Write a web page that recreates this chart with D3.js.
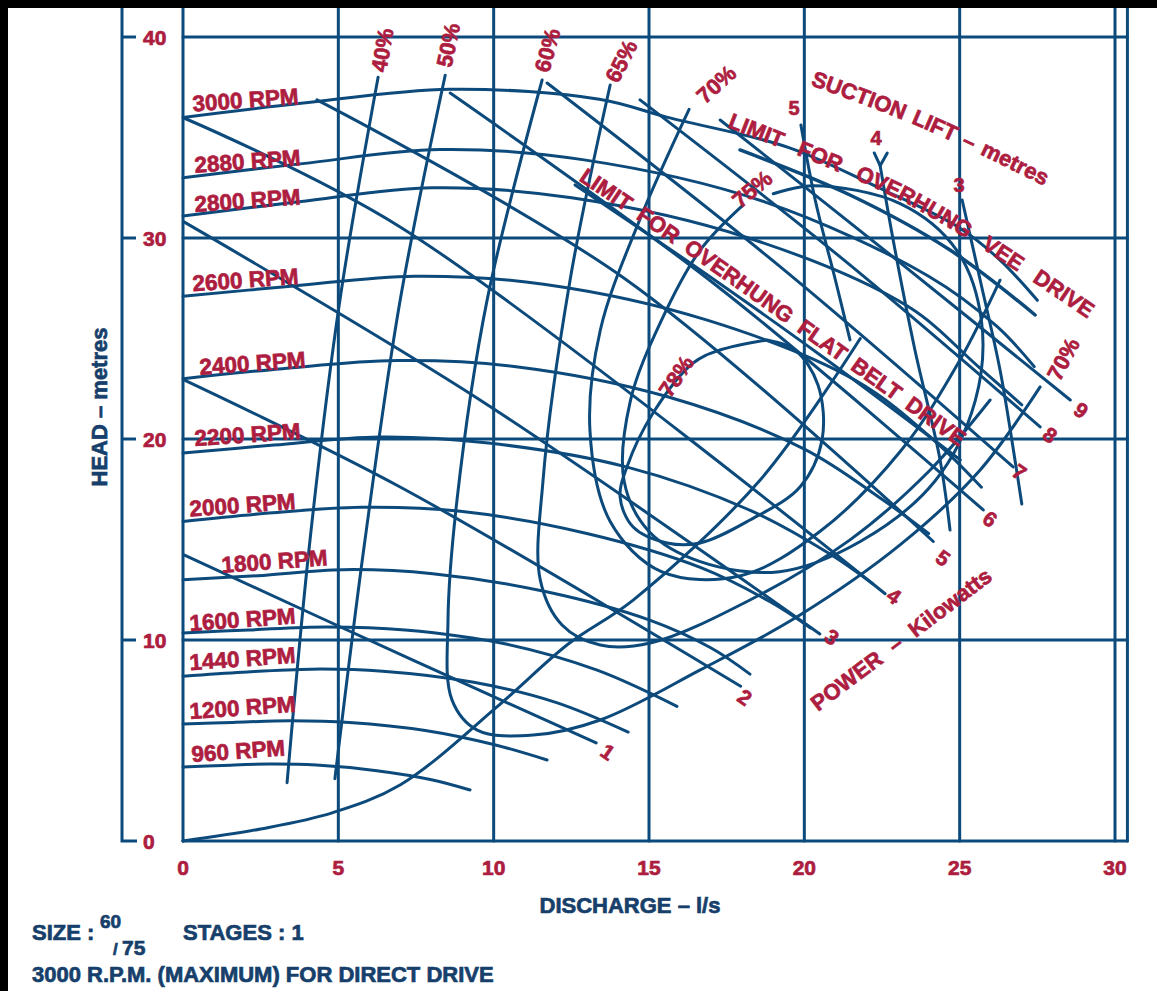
<!DOCTYPE html>
<html><head><meta charset="utf-8">
<script src="https://cdn.jsdelivr.net/npm/d3@7"></script>
<style>
body{margin:0;background:#fff;}
svg{display:block;}
text{font-family:"Liberation Sans",Arial,Helvetica,sans-serif;font-weight:bold;}
</style></head>
<body><svg id="c" width="1157" height="991"></svg>
<script>
// ---------- DATA (Q = discharge l/s, H = head m) ----------
const xTicks = [0, 5, 10, 15, 20, 25, 30];
const yTicks = [0, 10, 20, 30, 40];
const gridX = [5, 10, 15, 20, 25, 30];
const gridY = [10, 20, 30, 40];

const speedNames = ["3000 RPM","2880 RPM","2800 RPM","2600 RPM","2400 RPM","2200 RPM","2000 RPM","1800 RPM","1600 RPM","1440 RPM","1200 RPM","960 RPM"];
const rpm3000 = [[0,36.0],[3.8,36.7],[8.6,37.4],[13.4,36.9],[15.6,36.0],[19.5,34.5],[22.4,32.5],[25.0,30.5],[26.3,28.9],[27.5,26.9]];
const rpm2880 = [[0,33.0],[3.84,33.7],[8.26,34.4],[12.86,33.9],[18.72,31.8],[24.0,28.1],[26.2,25.6],[27.4,23.6]];
const rpm2800 = [[0,31.1],[3.73,31.8],[8.03,32.5],[12.51,32.0],[18.2,30.0],[23.33,26.6],[25.6,23.6],[27.0,21.7]];
const rpm2600 = [[0,27.1],[3.47,27.6],[7.45,28.1],[11.61,27.7],[16.9,25.9],[21.67,22.9],[24.2,19.9],[25.7,17.6]];
const rpm2400 = [[0,23.0],[3.2,23.5],[6.88,23.9],[10.72,23.6],[15.6,22.1],[20.0,19.5],[22.5,17.0],[24.0,15.3]];
const rpm2200 = [[0,19.3],[2.93,19.7],[6.31,20.1],[9.83,19.8],[14.3,18.6],[18.33,16.4],[20.8,14.3],[22.2,12.8]];
const rpm2000 = [[0,15.9],[2.67,16.3],[5.73,16.6],[8.93,16.4],[13.0,15.3],[16.67,13.6],[18.9,11.9],[20.2,10.6]];
const rpm1800 = [[0,13.0],[2.4,13.2],[5.16,13.5],[8.04,13.3],[11.7,12.4],[15.0,11.0],[17.0,9.6],[18.25,8.3]];
const rpm1600 = [[0,10.35],[2.13,10.5],[4.59,10.65],[7.15,10.5],[10.4,9.8],[13.33,8.5],[15.9,6.7]];
const rpm1440 = [[0,8.2],[1.92,8.4],[4.13,8.55],[6.43,8.45],[9.36,7.9],[12.0,6.9],[14.33,5.42]];
const rpm1200 = [[0,5.82],[1.6,5.9],[3.44,5.98],[5.36,5.9],[7.8,5.5],[10.0,4.8],[11.72,4.03]];
const rpm960  = [[0,3.68],[1.28,3.76],[2.75,3.83],[4.29,3.78],[6.24,3.5],[8.0,3.05],[9.24,2.54]];
const speedCurves = [rpm3000,rpm2880,rpm2800,rpm2600,rpm2400,rpm2200,rpm2000,rpm1800,rpm1600,rpm1440,rpm1200,rpm960];

// efficiency curves
const eff40 = [[6.28,38.0],[5.05,26.9],[4.09,15.0],[3.35,2.9]];
const eff50 = [[8.44,38.1],[6.99,26.9],[5.86,15.0],[4.89,3.1]];
const eff60 = [[11.56,37.86],[9.79,26.92],[8.82,16.97],[8.53,11.0],[8.66,7.01],[9.47,5.52],[11.27,5.27],[13.43,6.02],[16.65,8.51],[19.86,11.24],[23.08,14.73],[25.66,18.46],[27.59,22.59]];
const eff65 = [[13.75,37.61],[12.46,27.91],[11.59,17.96],[11.5,12.99],[12.2,10.75],[13.43,9.75],[15.04,9.85],[18.25,11.99],[21.47,14.98],[24.05,18.46],[25.98,21.94]];
const eff70 = [[16.29,36.4],[14.7,30.9],[13.43,25.4],[13.1,20.4],[13.75,15.9],[15.4,13.4],[17.95,13.2],[20.5,15.4],[23.1,19.4],[25.0,23.9],[26.3,27.9]];
const eff75 = [[19.0,32.2],[20.3,32.6],[23.1,31.7],[24.9,29.4],[25.7,25.9],[25.5,21.9],[24.2,17.9],[21.8,14.9],[19.2,13.4],[16.65,13.9],[15.0,15.4],[14.2,17.9],[14.4,21.9],[15.4,25.9],[16.65,29.4],[18.0,31.6]];
const eff78 = [[18.8,24.93],[17.29,24.43],[16.42,23.78],[15.13,21.29],[14.29,18.61],[14.07,17.11],[14.49,15.62],[15.58,14.83],[16.65,14.83],[18.25,15.97],[19.86,17.61],[20.57,19.95],[20.44,22.69],[19.7,24.43],[18.8,24.93]];
const effLow = [[0,0],[2.5,0.6],[4.8,1.4],[7.0,2.8],[10.2,6.8],[12.4,9.8],[14.5,12.0],[18.6,18.0],[21.8,25.0]];
const effCurves = [eff40,eff50,eff60,eff65,eff70,eff75,eff78,effLow];

// power curves (kW)
const pow1 = [[0.03,14.23],[7.40,9.0],[13.3,4.88]];
const pow2 = [[0.03,22.94],[6.99,17.61],[17.95,7.7]];
const pow3 = [[0.03,30.8],[9.56,21.94],[20.5,10.3]];
const pow4 = [[0.03,35.97],[6.99,30.55],[22.6,12.3]];
const pow5 = [[4.31,36.87],[14.2,28.0],[24.15,14.9]];
const pow6 = [[8.6,37.21],[17.2,27.6],[25.76,16.47]];
const pow7 = [[11.72,37.71],[19.2,28.6],[26.72,18.61]];
const pow8 = [[14.71,36.87],[21.2,29.0],[27.59,20.6]];
const pow9 = [[17.29,35.87],[22.9,29.0],[28.56,21.94]];
const powerCurves = [pow1,pow2,pow3,pow4,pow5,pow6,pow7,pow8,pow9];
const powerNames = ["1","2","3","4","5","6","7","8","9"];
const powerLabelAt = [[13.68,4.43],[18.09,7.16],[20.89,10.15],[22.89,12.19],[24.47,14.08],[25.98,16.02],[26.92,18.36],[27.91,20.2],[28.91,21.44]];

// suction lift curves (m)
const lift5 = [[19.89,35.62],[20.35,31.89],[21.0,27.91],[21.47,24.93]];
const lift4 = [[22.44,33.6],[22.92,29.4],[23.56,24.43],[24.37,18.96],[24.69,15.47]];
const lift3 = [[25.08,31.89],[25.66,27.91],[26.3,23.43],[26.78,18.96],[27.0,16.77]];
const liftCurves = [lift5,lift4,lift3];
const lift4Mark = [[22.25,34.23],[22.44,33.6],[22.67,34.23]];
const liftNames = ["5","4","3"];
const liftLabelAt = [[19.67,36.47],[22.31,34.97],[24.98,32.64]];

// drive limits
const limitVee = [[17.93,34.38],[21.47,32.14],[24.69,29.4],[27.43,26.17]];
const limitFlatBelt = [[12.62,32.64],[16.65,28.41],[20.51,24.18],[25.02,18.96]];

const effNames = ["40%","50%","60%","65%","70%","75%","78%","70%"];
const effLabelAt = [[6.41,39.35],[8.53,39.6],[11.72,39.35],[14.1,38.8],[17.16,37.66],[18.32,32.44],[15.87,23.13],[28.33,23.98]];
const effLabelAngle = [-80,-78,-75,-63,-42,-40,-56,-62];

// text baselines for the curved notes
const notes = ["SUCTION LIFT \u2013 metres","LIMIT FOR OVERHUNG VEE DRIVE","LIMIT FOR OVERHUNG FLAT BELT DRIVE","POWER \u2013 Kilowatts"];
const notePaths = [
  [[20.19,37.61],[23.57,35.62],[27.85,32.49]],
  [[17.51,35.52],[19.54,34.28],[21.47,33.03],[23.08,31.89],[25.18,30.0],[27.27,27.91],[29.27,25.82]],
  [[12.72,32.89],[16.65,28.76],[20.51,24.53],[25.02,19.55]],
  [[20.44,6.42],[26.14,13.08]]
];

// ---------- DRAW ----------
const BLUE = "#0d4a7c", RED = "#ad1d3f", NAVY = "#173f6b";
const svg = d3.select("#c");
const x = d3.scaleLinear().domain([0,30]).range([183,1115]);
const y = d3.scaleLinear().domain([0,40]).range([841,37]);
const xRight = x(30.4), topY = 8;

svg.append("rect").attr("width",1157).attr("height",991).attr("fill","#fff");

const g = svg.append("g").attr("stroke",BLUE).attr("stroke-width",3).attr("fill","none").attr("stroke-linecap","round");
g.append("line").attr("x1",x(0)).attr("x2",x(0)).attr("y1",topY).attr("y2",y(0));
gridX.forEach(v=>g.append("line").attr("x1",x(v)).attr("x2",x(v)).attr("y1",topY).attr("y2",y(0)));
g.append("line").attr("x1",xRight).attr("x2",xRight).attr("y1",topY).attr("y2",y(0));
g.append("line").attr("x1",x(0)).attr("x2",xRight).attr("y1",y(0)).attr("y2",y(0));
gridY.forEach(v=>g.append("line").attr("x1",x(0)).attr("x2",xRight).attr("y1",y(v)).attr("y2",y(v)));

const ax = svg.append("g").attr("stroke",BLUE).attr("stroke-width",3).attr("fill","none");
ax.append("path").attr("d",`M122,${topY} L122,${y(0)} L137,${y(0)}`);
yTicks.filter(v=>v>0).forEach(v=>ax.append("line").attr("x1",122).attr("x2",136).attr("y1",y(v)).attr("y2",y(v)));

const T = (sel,col,size)=>sel.append("text").attr("fill",col).attr("stroke",col).attr("stroke-width",0.7).attr("font-size",size);
yTicks.forEach(v=>T(svg,RED,21).attr("x",143).attr("y",y(v)).attr("dy","0.36em").text(v));
xTicks.forEach(v=>T(svg,RED,21).attr("x",x(v)).attr("y",867).attr("dy","0.36em").attr("text-anchor","middle").text(v));

const line = d3.line().x(d=>x(d[0])).y(d=>y(d[1])).curve(d3.curveCatmullRom.alpha(0.5));
const lineLin = d3.line().x(d=>x(d[0])).y(d=>y(d[1]));
const curves = svg.append("g").attr("stroke",BLUE).attr("stroke-width",3).attr("fill","none").attr("stroke-linecap","round").attr("stroke-linejoin","round");
[...speedCurves,...effCurves,...powerCurves,...liftCurves,limitFlatBelt].forEach(c=>curves.append("path").attr("d",line(c)));
curves.append("path").attr("d",line(limitVee)).attr("stroke-width",3.5);
curves.append("path").attr("d",lineLin(lift4Mark));

// speed labels
const spdDx = [10,12,12,10,17,12,7,39,7,7,7,9];
const spdDy = [-6,-5,-4,-5,-4,-7,-5,-7,-2,-6,-5,-5];
speedNames.forEach((s,i)=>{
  const c = speedCurves[i];
  const px = x(c[0][0])+spdDx[i], py = y(c[0][1])+spdDy[i];
  T(svg,RED,22.5).attr("transform",`translate(${px},${py}) rotate(-4)`).text(s);
});

const rt = (t,p,ang,size)=>T(svg,RED,size).attr("transform",`translate(${x(p[0])},${y(p[1])}) rotate(${ang})`)
  .attr("text-anchor","middle").attr("dy","0.36em").text(t);
effNames.forEach((t,i)=>rt(t,effLabelAt[i],effLabelAngle[i],22));
powerNames.forEach((t,i)=>rt(t,powerLabelAt[i],35,21));
liftNames.forEach((t,i)=>rt(t,liftLabelAt[i],0,20));

// curved notes, one word per text element along its baseline
const defs = svg.append("defs");
const noteLen = [255,410,465,220];
const lineSmooth = d3.line().x(d=>x(d[0])).y(d=>y(d[1])).curve(d3.curveMonotoneX);
notes.forEach((t,i)=>{
  defs.append("path").attr("id","np"+i).attr("d",lineSmooth(notePaths[i]));
  const words = t.split(" ").filter(w=>w.length);
  const widths = words.map(w=>{const tt=T(svg,RED,22).text(w); const l=tt.node().getComputedTextLength(); tt.remove(); return l;});
  const gap = (noteLen[i]-d3.sum(widths))/(words.length-1);
  let off = 0;
  words.forEach((w,j)=>{
    T(svg,RED,22).append("textPath").attr("href","#np"+i).attr("startOffset",off).text(w);
    off += widths[j]+gap;
  });
});

// axis titles & footer
T(svg,NAVY,22).attr("x",630).attr("y",913).attr("text-anchor","middle").text("DISCHARGE \u2013 l/s");
T(svg,NAVY,22).attr("transform","translate(107,407) rotate(-90)").attr("text-anchor","middle").text("HEAD \u2013 metres");
T(svg,NAVY,22).attr("x",32).attr("y",940).text("SIZE :");
T(svg,NAVY,19).attr("x",100).attr("y",928).text("60");
T(svg,NAVY,17).attr("x",113).attr("y",955).text("/");
T(svg,NAVY,21).attr("x",122).attr("y",955).text("75");
T(svg,NAVY,22).attr("x",183).attr("y",940).text("STAGES : 1");
T(svg,NAVY,22).attr("x",32).attr("y",982).text("3000 R.P.M. (MAXIMUM) FOR DIRECT DRIVE");

svg.append("rect").attr("x",0).attr("y",0).attr("width",1157).attr("height",8).attr("fill","#000");
svg.append("rect").attr("x",0).attr("y",0).attr("width",8).attr("height",991).attr("fill","#000");
</script></body></html>
